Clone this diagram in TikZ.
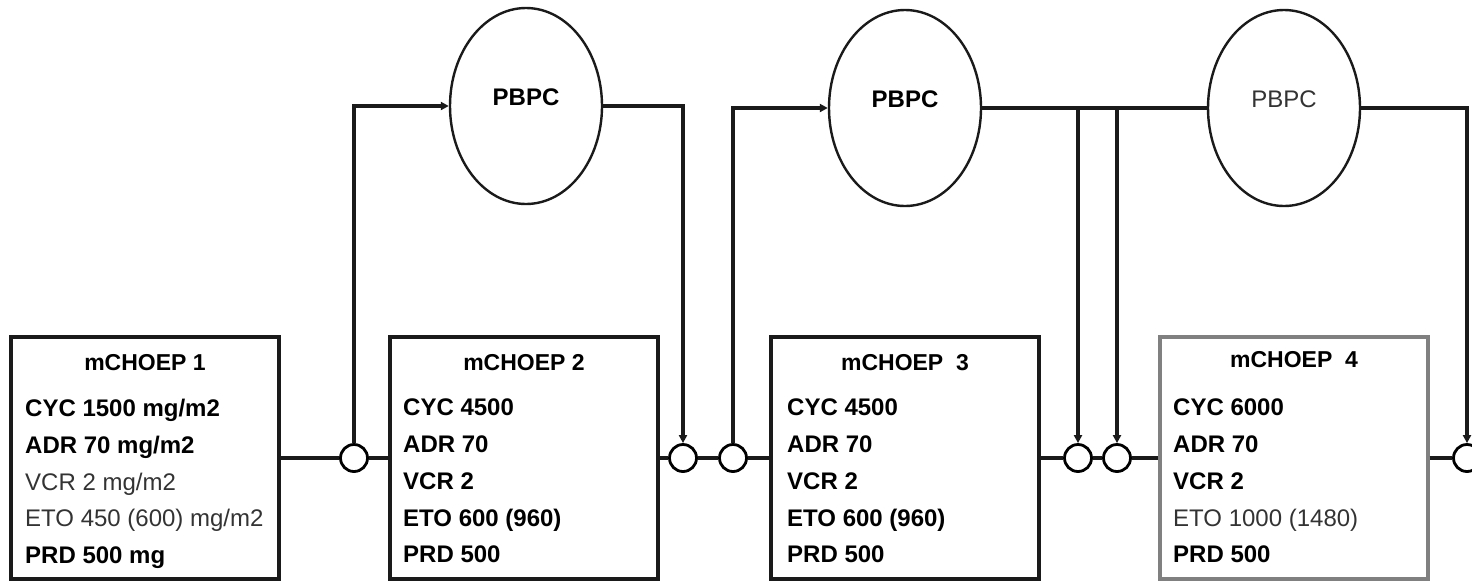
\documentclass[tikz,border=0pt]{standalone}
\usepackage{fontspec}
\setmainfont{Liberation Sans}
\usetikzlibrary{shapes.geometric,arrows.meta}
\definecolor{ln}{HTML}{1A1A1A}
\definecolor{gr}{HTML}{808080}
\definecolor{tg}{HTML}{333333}
\tikzset{
  box/.style={draw=ln,line width=3.2pt,minimum width=268pt,minimum height=242pt,inner sep=0pt},
  graybox/.style={box,draw=gr},
  pbpc/.style={ellipse,draw=ln,line width=2.4pt,minimum width=152pt,minimum height=196pt,inner sep=0pt,text depth=18pt,font=\fontsize{24}{28}\selectfont\bfseries},
  junc/.style={circle,draw=black,line width=2.8pt,minimum size=27pt,inner sep=0pt,fill=white},
  ttl/.style={font=\fontsize{23}{28}\selectfont\bfseries,inner sep=0pt},
  lines/.style={anchor=north west,align=left,inner sep=0pt,font=\fontsize{24}{36.75}\selectfont\bfseries},
  conn/.style={draw=ln,line width=3.2pt},
  arr/.style={conn,-{Triangle[length=8pt,width=8pt]}}
}
\begin{document}
\begin{tikzpicture}[x=1pt,y=-1pt]
\useasboundingbox (0,0) rectangle (1472,582);
% boxes
\node[box] (b1) at (145,458) {};
\node[box] (b2) at (524,458) {};
\node[box] (b3) at (905,458) {};
\node[graybox] (b4) at (1294,458) {};
% titles
\node[ttl] (t1) at (145,363) {mCHOEP 1};
\node[ttl] (t2) at (524,363) {mCHOEP 2};
\node[ttl] (t3) at (905,363) {mCHOEP\ \ 3};
\node[ttl] (t4) at (1294,360) {mCHOEP\ \ 4};
% contents
\node[lines] (l1) at (25,399) {CYC 1500 mg/m2\\ADR 70 mg/m2\\{\mdseries\color{tg}VCR 2 mg/m2}\\{\mdseries\color{tg}ETO 450 (600) mg/m2}\\PRD 500 mg};
\node[lines] (l2) at (403,399) {CYC 4500\\ADR 70\\VCR 2\\ETO 600 (960)\\PRD 500};
\node[lines] (l3) at (787,399) {CYC 4500\\ADR 70\\VCR 2\\ETO 600 (960)\\PRD 500};
\node[lines] (l4) at (1173,399) {CYC 6000\\ADR 70\\VCR 2\\{\mdseries\color{tg}ETO 1000 (1480)}\\PRD 500};
% PBPC ellipses
\node[pbpc] (e1) at (526,106) {PBPC};
\node[pbpc] (e2) at (905,108) {PBPC};
\node[pbpc,font=\fontsize{24}{28}\selectfont\mdseries,text=tg] (e3) at (1284,108) {PBPC};
% junctions
\node[junc] (c1) at (354,458) {};
\node[junc] (c2a) at (683,458) {};
\node[junc] (c2b) at (733,458) {};
\node[junc] (c3a) at (1078,458) {};
\node[junc] (c3b) at (1117,458) {};
\node[junc] (c4) at (1467,458) {};
% main chain
\draw[conn] (b1.east) -- (c1.west);
\draw[conn] (c1.east) -- (b2.west);
\draw[conn] (b2.east) -- (c2a.west);
\draw[conn] (c2a.east) -- (c2b.west);
\draw[conn] (c2b.east) -- (b3.west);
\draw[conn] (b3.east) -- (c3a.west);
\draw[conn] (c3a.east) -- (c3b.west);
\draw[conn] (c3b.east) -- (b4.west);
\draw[conn] (b4.east) -- (c4.west);
% PBPC loops
\draw[arr] (c1.north) |- (e1.west);
\draw[arr] (e1.east) -| (c2a.north);
\draw[arr] (c2b.north) |- (e2.west);
\draw[conn] (e2.east) -- (e3.west);
\coordinate (k1) at (c3a |- e2.east);
\coordinate (k2) at (c3b |- e2.east);
\draw[arr] (k1) -- (c3a.north);
\draw[arr] (k2) -- (c3b.north);
\draw[arr] (e3.east) -| (c4.north);
\end{tikzpicture}
\end{document}
